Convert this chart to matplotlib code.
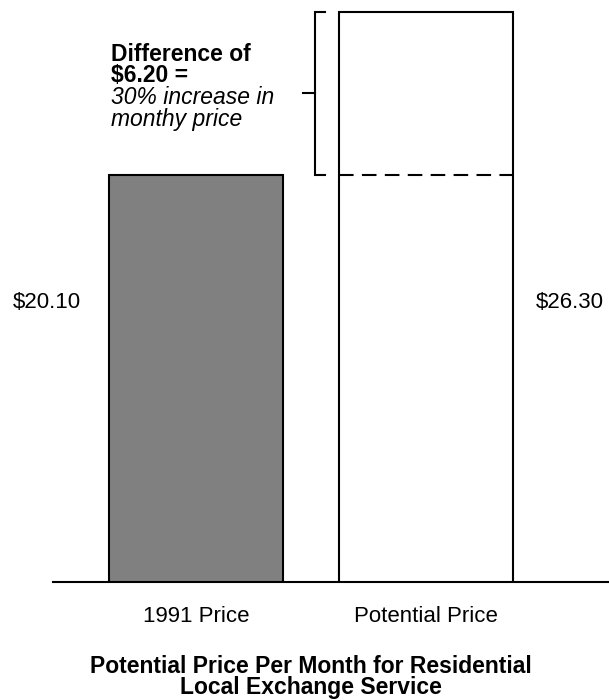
import matplotlib
matplotlib.use("Agg")
import matplotlib.pyplot as plt
import matplotlib.transforms as mtransforms

plt.rcParams['font.family'] = ['Liberation Sans', 'DejaVu Sans']

# data
categories = ["1991 Price", "Potential Price"]
prices = [20.10, 26.30]
price_labels = ["$20.10", "$26.30"]
note_bold = ["Difference of", "$6.20 ="]
note_italic = ["30% increase in", "monthy price"]
title = "Potential Price Per Month for Residential\nLocal Exchange Service"

fig = plt.figure(figsize=(6.09, 7.0), dpi=100, facecolor='white')
ax = fig.add_axes([53 / 609, 118 / 700, 1 - 53 / 609, 582 / 700])

xs = range(len(categories))
ax.bar(xs[0], prices[0], width=0.755, color='#808080', edgecolor='black', linewidth=1.5)
ax.bar(xs[1], prices[1], width=0.755, color='white', edgecolor='black', linewidth=1.5)

# dashed reference line at old price across the new bar
ax.plot([1 - 0.755 / 2, 1 + 0.755 / 2], [prices[0], prices[0]], color='black',
        linestyle=(0, (7, 4)), linewidth=1.5)

# bracket showing the difference
bx = 0.516
ax.plot([bx + 0.045, bx, bx, bx + 0.045], [prices[1], prices[1], prices[0], prices[0]],
        color='black', linewidth=1.5, solid_joinstyle='miter')
mid = (prices[0] + prices[1]) / 2
ax.plot([bx - 0.052, bx], [mid, mid], color='black', linewidth=1.5)

ax.set_xlim(-0.620, 1.792)
ax.set_ylim(4.73, 26.735)

# value labels beside each bar
trans = mtransforms.blended_transform_factory(ax.transData, ax.transAxes)
ax.annotate(price_labels[0], xy=(0 - 0.755 / 2, 0.481), xycoords=trans,
            xytext=(-20, 0), textcoords='offset points', ha='right', va='center', fontsize=16)
ax.annotate(price_labels[1], xy=(1 + 0.755 / 2, 0.481), xycoords=trans,
            xytext=(16, 0), textcoords='offset points', ha='left', va='center', fontsize=16)

ax.set_xticks(list(xs))
ax.set_xticklabels(categories, fontsize=16)
ax.tick_params(axis='x', length=0, pad=17)
ax.set_yticks([])
for s in ['top', 'right', 'left']:
    ax.spines[s].set_visible(False)
ax.spines['bottom'].set_linewidth(1.5)

# note text
fig.text(111 / 609, 1 - 61 / 700, note_bold[0], fontsize=16.5, fontweight='bold', va='baseline')
fig.text(111 / 609, 1 - 82 / 700, note_bold[1], fontsize=16.5, fontweight='bold', va='baseline')
fig.text(111 / 609, 1 - 104 / 700, note_italic[0], fontsize=16.5, style='italic', va='baseline')
fig.text(111 / 609, 1 - 126 / 700, note_italic[1], fontsize=16.5, style='italic', va='baseline')

fig.text(311 / 609, 1 - 677 / 700, title, fontsize=16.5, fontweight='bold',
         ha='center', va='center', linespacing=0.9)

fig.savefig("out.png", dpi=100)
